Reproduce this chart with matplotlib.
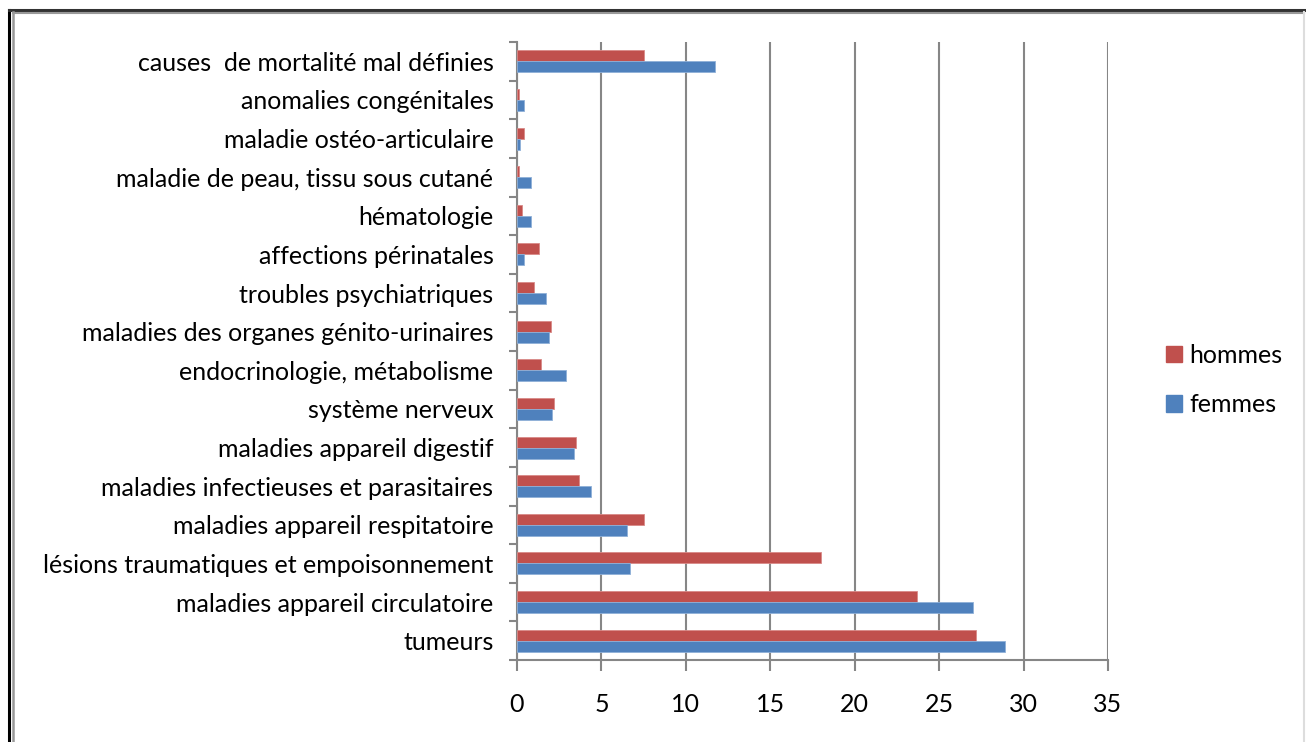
import numpy as np
import matplotlib.pyplot as plt
from matplotlib.patches import Rectangle
from matplotlib.lines import Line2D

plt.rcParams['font.family'] = ['Lato', 'DejaVu Sans']

# categories, bottom to top
categories = ['tumeurs',
              'maladies appareil circulatoire',
              'lésions traumatiques et empoisonnement',
              'maladies appareil respitatoire',
              'maladies infectieuses et parasitaires',
              'maladies appareil digestif',
              'système nerveux',
              'endocrinologie, métabolisme',
              'maladies des organes génito-urinaires',
              'troubles psychiatriques',
              'affections périnatales',
              'hématologie',
              'maladie de peau, tissu sous cutané',
              'maladie ostéo-articulaire',
              'anomalies congénitales',
              'causes  de mortalité mal définies']
hommes = [27.2, 23.7, 18.0, 7.5, 3.7, 3.5, 2.2, 1.4, 2.0, 1.0, 1.3, 0.3, 0.1, 0.4, 0.1, 7.5]
femmes = [28.9, 27.0, 6.7, 6.5, 4.4, 3.4, 2.1, 2.9, 1.9, 1.7, 0.4, 0.8, 0.8, 0.15, 0.4, 11.7]
xticks = [0, 5, 10, 15, 20, 25, 30, 35]

red = '#C0504D'
blue = '#4F81BD'
grid = '#868686'
fs = 18

fig = plt.figure(figsize=(13.06, 7.42), dpi=100)
ax = fig.add_axes([517/1306, 1 - 660/742, (1108 - 517)/1306, (660 - 42)/742])

y = np.arange(len(categories))
h = 0.286
ax.barh(y + h/2, hommes, height=h, color=red, edgecolor='#d98a88', linewidth=0.6, label='hommes', zorder=3)
ax.barh(y - h/2, femmes, height=h, color=blue, edgecolor='#8fb0d8', linewidth=0.6, label='femmes', zorder=3)

ax.set_xlim(0, 35)
ax.set_ylim(-0.5, len(categories) - 0.5)
ax.set_xticks(xticks)
ax.set_xticklabels([str(t) for t in xticks], fontsize=fs)
ax.set_yticks(y)
ax.set_yticklabels(categories, fontsize=fs)
ax.set_yticks(np.arange(-0.5, len(categories)), minor=True)
ax.tick_params(axis='y', which='major', length=0, pad=17)
ax.tick_params(axis='y', which='minor', length=6, width=1.5, color=grid)
ax.tick_params(axis='x', which='major', length=8, width=1.5, color=grid, pad=16, direction='out')

ax.grid(axis='x', color=grid, linewidth=1.5, zorder=0)
for s in ['top', 'right']:
    ax.spines[s].set_visible(False)
for s in ['left', 'bottom']:
    ax.spines[s].set_color(grid)
    ax.spines[s].set_linewidth(1.5)

handles = [Rectangle((0, 0), 1, 1, color=red), Rectangle((0, 0), 1, 1, color=blue)]
fig.legend(handles, ['hommes', 'femmes'], loc='center left', bbox_to_anchor=(1143/1306, 1 - 380/742),
           frameon=False, fontsize=fs, handlelength=0.65, handleheight=0.65,
           handletextpad=0.3, labelspacing=1.05)

# outer frame
fig.add_artist(Line2D([9/1306, 9/1306], [0, 1 - 10/742], color='black', lw=2.2, transform=fig.transFigure))
fig.add_artist(Line2D([9/1306, 1304/1306], [1 - 10/742, 1 - 10/742], color='#333333', lw=2.2, transform=fig.transFigure))
fig.add_artist(Line2D([13/1306, 13/1306], [0, 1 - 12/742], color='#999999', lw=1.8, transform=fig.transFigure))
fig.add_artist(Line2D([13/1306, 1304/1306], [1 - 12.5/742, 1 - 12.5/742], color='#999999', lw=1.5, transform=fig.transFigure))
fig.add_artist(Line2D([1304/1306, 1304/1306], [0, 1 - 12/742], color='#dddddd', lw=1.5, transform=fig.transFigure))

fig.savefig('out.png', dpi=100, facecolor='white')
